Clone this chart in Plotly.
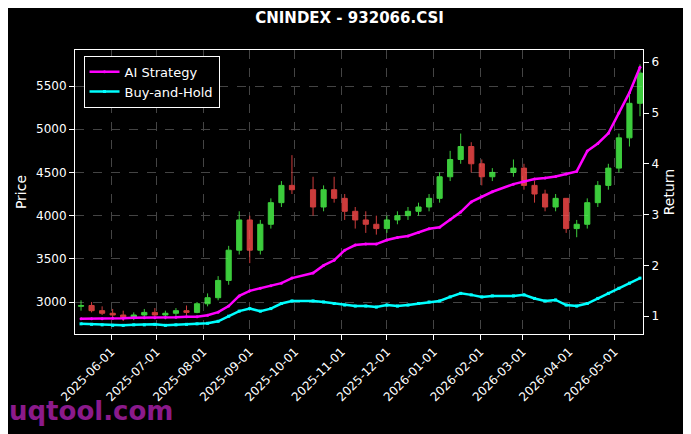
import plotly.graph_objects as go

dates = ["2025-05-12","2025-05-19","2025-05-26","2025-06-02","2025-06-09","2025-06-16","2025-06-23","2025-06-30",
         "2025-07-07","2025-07-14","2025-07-21","2025-07-28","2025-08-04","2025-08-11","2025-08-18","2025-08-25",
         "2025-09-01","2025-09-08","2025-09-15","2025-09-22","2025-09-29","2025-10-13","2025-10-20","2025-10-27",
         "2025-11-03","2025-11-10","2025-11-17","2025-11-24","2025-12-01","2025-12-08","2025-12-15","2025-12-22",
         "2025-12-29","2026-01-05","2026-01-12","2026-01-19","2026-01-26","2026-02-02","2026-02-09","2026-02-23",
         "2026-03-02","2026-03-09","2026-03-16","2026-03-23","2026-03-30","2026-04-06","2026-04-13","2026-04-20",
         "2026-04-27","2026-05-04","2026-05-11","2026-05-18"]
open_ = [2950,2960,2900,2870,2850,2820,2850,2880,2850,2870,2900,2880,2980,3050,3250,3600,
         3950,3600,3900,4150,4350,4300,4100,4300,4200,4050,3950,3900,3850,3950,4000,4050,
         4100,4200,4450,4650,4800,4600,4450,4500,4550,4350,4250,4100,4200,3850,3900,4150,
         4350,4550,4900,5300]
high = [3020,3000,2950,2920,2900,2880,2920,2930,2900,2930,2960,3000,3100,3300,3650,4050,
        4000,3950,4200,4400,4700,4450,4350,4450,4250,4100,4050,4000,4000,4050,4100,4150,
        4250,4500,4750,4950,4850,4650,4550,4650,4600,4400,4300,4250,4200,3950,4200,4400,
        4600,4950,5400,5750]
low = [2900,2880,2850,2820,2780,2790,2820,2830,2800,2840,2850,2870,2950,3020,3200,3550,
       3450,3550,3850,4100,4250,4000,4050,4150,3950,3850,3800,3780,3800,3900,3950,4000,
       4050,4150,4400,4600,4500,4350,4400,4450,4300,4150,4050,4050,3800,3750,3850,4100,
       4300,4500,4800,5150]
close = [2960,2900,2870,2850,2820,2850,2880,2850,2870,2900,2880,2980,3050,3250,3600,3950,
         3600,3900,4150,4350,4300,4100,4300,4200,4050,3950,3900,3850,3950,4000,4050,4100,
         4200,4450,4650,4800,4600,4450,4500,4550,4350,4250,4100,4200,3850,3900,4150,4350,
         4550,4900,5300,5650]
ai_return = [0.95,0.95,0.95,0.96,0.96,0.97,0.97,0.97,0.98,0.98,0.99,0.99,1.02,1.08,1.2,1.4,
             1.5,1.55,1.6,1.65,1.75,1.85,2.0,2.1,2.3,2.4,2.42,2.42,2.5,2.55,2.58,2.65,
             2.72,2.75,2.9,3.05,3.25,3.35,3.45,3.6,3.65,3.7,3.72,3.75,3.8,3.85,4.25,4.4,
             4.6,5.0,5.4,5.9]
bh_return = [0.85,0.84,0.83,0.82,0.82,0.83,0.83,0.84,0.82,0.83,0.84,0.85,0.86,0.9,1.0,1.1,
             1.15,1.1,1.15,1.25,1.3,1.3,1.28,1.25,1.22,1.2,1.2,1.18,1.22,1.2,1.22,1.25,
             1.28,1.3,1.38,1.45,1.42,1.38,1.4,1.4,1.42,1.35,1.3,1.32,1.22,1.2,1.25,1.35,
             1.45,1.55,1.65,1.75]

fig = go.Figure()
fig.add_trace(go.Candlestick(x=dates, open=open_, high=high, low=low, close=close,
    increasing=dict(line=dict(color="#4cff4c", width=1), fillcolor="#4cff4c"),
    decreasing=dict(line=dict(color="#ff4c4c", width=1), fillcolor="#ff4c4c"),
    whiskerwidth=0, showlegend=False, opacity=0.8))
fig.add_trace(go.Scatter(x=dates, y=ai_return, name="AI Strategy", yaxis="y2",
    mode="lines+markers", line=dict(color="#ff00ff", width=2.5), marker=dict(size=3)))
fig.add_trace(go.Scatter(x=dates, y=bh_return, name="Buy-and-Hold", yaxis="y2",
    mode="lines+markers", line=dict(color="#00ffff", width=2.5), marker=dict(size=3, symbol="square")))

grid = dict(showgrid=True, gridcolor="#444", griddash="dash", gridwidth=0.6)
fig.update_layout(
    width=683, height=426, paper_bgcolor="black", plot_bgcolor="black",
    font=dict(family="DejaVu Sans", color="white", size=12),
    title=dict(text="<b>CNINDEX - 932066.CSI</b>", x=0.5, xanchor="center", y=0.976, yanchor="middle",
               font=dict(size=15)),
    margin=dict(l=67, r=48, t=42, b=100, autoexpand=False),
    xaxis=dict(type="date", range=["2025-05-08", "2026-05-20"], tickformat="%Y-%m-%d", dtick="M1",
               tick0="2025-06-01", tickangle=-45, rangeslider=dict(visible=False), automargin=False,
               showline=True, linecolor="white", mirror=True, ticks="outside", tickcolor="white", **grid),
    yaxis=dict(title=dict(text="Price", standoff=6), range=[2630, 5917], dtick=500, automargin=False,
               showline=True, linecolor="white", mirror=True, ticks="outside", tickcolor="white", **grid),
    yaxis2=dict(title=dict(text="Return", standoff=6), overlaying="y", side="right", range=[0.65, 6.24],
                dtick=1, showgrid=False, ticks="outside", tickcolor="white", showline=True, linecolor="white",
                automargin=False),
    legend=dict(x=0.015, y=0.98, xanchor="left", yanchor="top", bgcolor="black",
                bordercolor="white", borderwidth=1, font=dict(size=13)),
    annotations=[dict(text="<b>uqtool.com</b>", xref="paper", yref="paper", x=-0.12, y=-0.33,
                      xanchor="left", yanchor="bottom", showarrow=False,
                      font=dict(size=26, color="#8b1a8b"))],
)
fig.write_html("out.html")
